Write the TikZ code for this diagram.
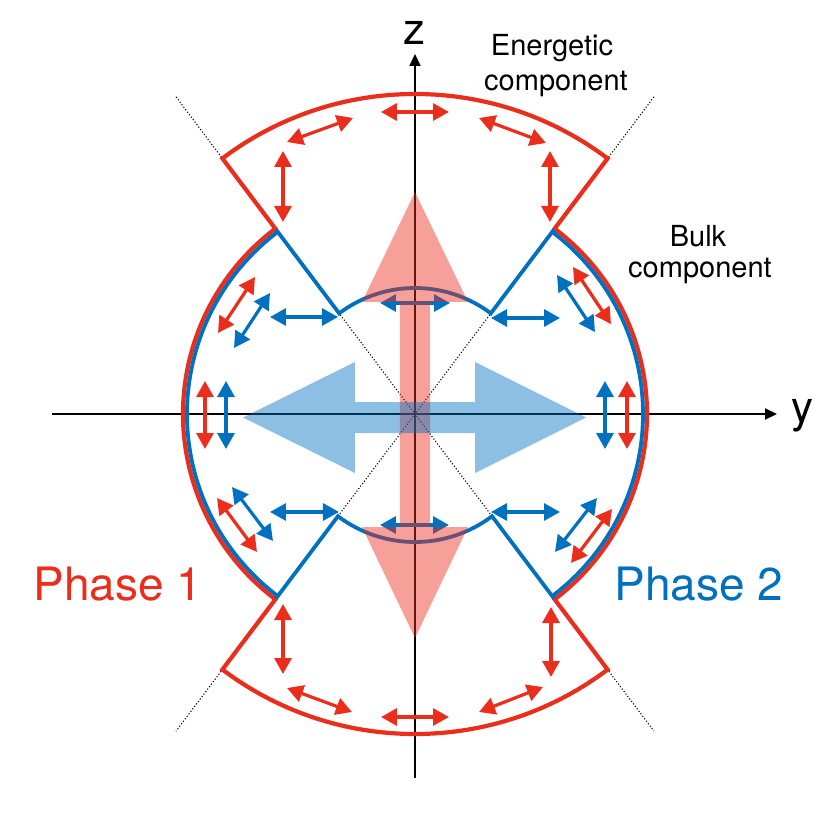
\documentclass[tikz,border=0pt]{standalone}
\usepackage{fontspec}
\setmainfont{TeX Gyre Heros}
\usetikzlibrary{arrows.meta}
\definecolor{pred}{RGB}{235,45,28}
\definecolor{pblue}{RGB}{0,112,192}
\begin{document}
\begin{tikzpicture}[x=0.5pt,y=0.5pt,
  axis/.style={black,line width=1pt,-{Triangle[length=6pt,width=5.5pt]}},
  dots/.style={black,line width=0.55pt,densely dotted},
  redline/.style={pred,line width=2.1pt,line join=miter},
  blueline/.style={pblue,line width=1.9pt,line join=miter},
  rarr/.style={pred,line width=1.6pt,{Triangle[length=8pt,width=8.5pt]}-{Triangle[length=8pt,width=8.5pt]}},
  barr/.style={pblue,line width=1.6pt,{Triangle[length=8pt,width=8.5pt]}-{Triangle[length=8pt,width=8.5pt]}},
  bigred/.style={fill=pred,fill opacity=0.45},
  bigblue/.style={fill=pblue,fill opacity=0.45},
  lbl/.style={font=\fontsize{14.5}{17.5}\selectfont,inner sep=0pt},
  axlbl/.style={font=\fontsize{22}{26}\selectfont,inner sep=0pt},
  phlbl/.style={font=\fontsize{23}{27}\selectfont,inner sep=0pt,anchor=base}]
\useasboundingbox (-415,-416) rectangle (415,414);
% axes
\coordinate (yst) at (-363,0);
\coordinate (yen) at (362,0);
\coordinate (zst) at (0,-364);
\coordinate (zen) at (0,360);
\draw[axis] (yst) -- (yen);
\draw[axis] (zst) -- (zen);
\node[axlbl] (ylab) at (387,-1.5) {y};
\node[axlbl] (zlab) at (0,381) {z};
% dotted diagonals
\draw[dots] (127:397) -- (307:397);
\draw[dots] (53:397) -- (233:397);
% red outline
\draw[redline] (53:232) -- (53:320) arc[start angle=53,end angle=127,radius=320]
  -- (127:232) arc[start angle=127,end angle=233,radius=232]
  -- (233:320) arc[start angle=233,end angle=307,radius=320]
  -- (307:232) arc[start angle=-53,end angle=53,radius=232] -- cycle;
% blue outline
\draw[blueline] (127:231) -- (127:126) arc[start angle=127,end angle=53,radius=126] -- (53:231);
\draw[blueline] (233:231) -- (233:128) arc[start angle=233,end angle=307,radius=128] -- (307:231);
\draw[blueline] (127:228) arc[start angle=127,end angle=233,radius=228];
\draw[blueline] (-53:228) arc[start angle=-53,end angle=53,radius=228];
% top sector arrows
\draw[rarr] (-34,302) -- (34,302);
\draw[rarr] (-128,272) -- (-62,296);
\draw[rarr] (64,296) -- (131,271);
\draw[rarr] (-132,263) -- (-132,192);
\draw[rarr] (135,263) -- (135,192);
% bottom sector arrows
\draw[rarr] (-34,-303) -- (34,-303);
\draw[rarr] (-128,-274) -- (-63,-298);
\draw[rarr] (64,-298) -- (128,-273);
\draw[rarr] (-132,-190) -- (-132,-260);
\draw[rarr] (136,-193) -- (136,-263);
% side arrows left
\draw[rarr] (-160,137) -- (-197,81);
\draw[barr] (-145,121) -- (-181,66);
\draw[barr] (-145,97) -- (-77,97);
\draw[rarr] (-198,-84) -- (-158,-138);
\draw[barr] (-183,-73) -- (-142,-127);
\draw[barr] (-145,-98) -- (-76,-98);
\draw[rarr] (-210,33) -- (-210,-35);
\draw[barr] (-189,33) -- (-189,-35);
% side arrows right
\draw[barr] (76,96) -- (145,96);
\draw[barr] (142,139) -- (180,82);
\draw[rarr] (158,147) -- (196,90);
\draw[barr] (76,-98) -- (145,-98);
\draw[barr] (182,-84) -- (140,-138);
\draw[rarr] (197,-95) -- (156,-149);
\draw[barr] (190,33) -- (190,-35);
\draw[rarr] (212,33) -- (212,-35);
% central blue arrows
\draw[barr] (-35,111) -- (35,111);
\draw[barr] (-35,-111) -- (34,-111);
% big translucent arrows
\fill[bigred] (-15,-113) -- (-53,-113) -- (0,-224) -- (53,-113) -- (15,-113)
  -- (15,112) -- (53,112) -- (0,222) -- (-53,112) -- (-15,112) -- cycle;
\fill[bigblue] (-60,12) -- (-60,52) -- (-172,-3.5) -- (-60,-59) -- (-60,-19)
  -- (60,-19) -- (60,-59) -- (171,-3.5) -- (60,52) -- (60,12) -- cycle;
% labels
\node[lbl,anchor=base] (en1) at (137,358) {Energetic};
\node[lbl,anchor=base] (en2) at (141,323) {component};
\node[lbl,anchor=base] (bu1) at (283,167) {Bulk};
\node[lbl,anchor=base] (bu2) at (285,136) {component};
\node[phlbl,pred] (ph1) at (-297,-186) {Phase 1};
\node[phlbl,pblue] (ph2) at (284,-186) {Phase 2};
\end{tikzpicture}
\end{document}
